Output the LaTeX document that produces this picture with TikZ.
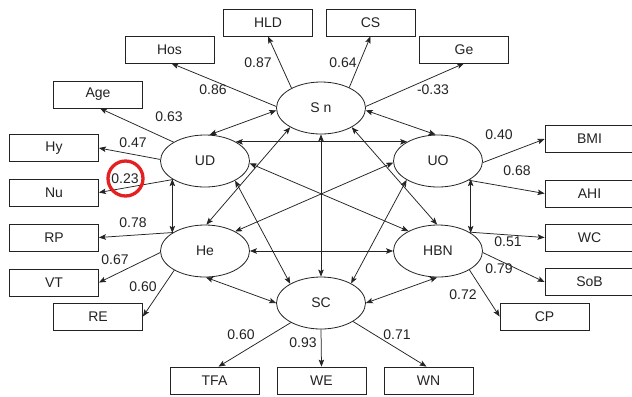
\documentclass[tikz,border=0pt]{standalone}
\usepackage{fontspec}
\setmainfont{Liberation Sans}
\usetikzlibrary{arrows.meta,shapes.geometric}
\definecolor{ink}{RGB}{35,35,35}
\definecolor{ringred}{RGB}{228,32,32}
\begin{document}
\begin{tikzpicture}[x=1bp,y=-1bp,
  every node/.style={font=\fontsize{14bp}{16bp}\selectfont, text=ink},
  lat/.style={draw=ink, line width=0.8bp, ellipse, minimum width=89bp, minimum height=52bp, inner sep=0pt},
  obs/.style={draw=ink, line width=0.8bp, rectangle, minimum width=89bp, minimum height=27bp, inner sep=0pt},
  tip/.style={-{Stealth[length=7bp,width=5.5bp,inset=1.5bp]}, draw=ink, line width=0.75bp},
  both/.style={{Stealth[length=7bp,width=5.5bp,inset=1.5bp]}-{Stealth[length=7bp,width=5.5bp,inset=1.5bp]}, draw=ink, line width=0.75bp},
  coef/.style={inner sep=0pt},
  hilite/.style={draw=ringred, circle, line width=3.3bp, minimum size=35bp, inner sep=0pt}
]
\useasboundingbox (0,0) rectangle (632,396);
\fill[white] (0,0) rectangle (632,396);
\clip (0,0) rectangle (632,396);

% latent constructs
\node[lat] (Sn)  at (321,108) {S n};
\node[lat] (UD)  at (205,161) {UD};
\node[lat] (UO)  at (438,161) {UO};
\node[lat] (He)  at (205,251) {He};
\node[lat] (HBN) at (438,251) {HBN};
\node[lat] (SC)  at (321,303) {SC};

% indicators
\node[obs] (HLD) at (268,22.5) {HLD};
\node[obs] (Hos) at (169.5,49.5) {Hos};
\node[obs] (CS)  at (370.5,22.5) {CS};
\node[obs] (Ge)  at (464,49.5) {Ge};
\node[obs] (Age) at (98,94.5) {Age};
\node[obs] (Hy)  at (54,148) {Hy};
\node[obs] (Nu)  at (54,192.5) {Nu};
\node[obs] (RP)  at (54,237.5) {RP};
\node[obs] (VT)  at (54,282.5) {VT};
\node[obs] (RE)  at (98,316.5) {RE};
\node[obs] (BMI) at (589.5,139) {BMI};
\node[obs] (AHI) at (589.5,193.5) {AHI};
\node[obs] (WC)  at (589.5,237.5) {WC};
\node[obs] (SoB) at (589.5,282) {SoB};
\node[obs] (CP)  at (544.5,316.5) {CP};
\node[obs] (TFA) at (214.5,380.5) {TFA};
\node[obs] (WE)  at (321.5,380.5) {WE};
\node[obs] (WN)  at (428.5,380.5) {WN};

% loadings
\draw[tip] (Sn.146) -- (HLD.south);
\draw[tip] (Sn.178) -- ([xshift=2bp]Hos.south);
\draw[tip] (Sn.36)  -- (CS.south);
\draw[tip] (Sn.2)   -- (Ge.south);
\draw[tip] (UD.149) -- ([xshift=2bp]Age.south);
\draw[tip] (UD.178) -- (Hy.east);
\draw[tip] (UD.210) -- (Nu.east);
\draw[tip] (He.150) -- (RP.east);
\draw[tip] (He.182) -- (VT.east);
\draw[tip] (He.212) -- (RE.east);
\draw[tip] (SC.213) -- ([xshift=4bp]TFA.north);
\draw[tip] (SC.270) -- (WE.north);
\draw[tip] (SC.330) -- ([xshift=-2bp]WN.north);
\draw[tip] (UO.-2)  -- (BMI.west);
\draw[tip] (UO.328) -- (AHI.west);
\draw[tip] (HBN.31) -- (WC.west);
\draw[tip] (HBN.-2) -- (SoB.west);
\draw[tip] (HBN.329) -- (CP.west);

% correlations between constructs
\draw[both] (Sn.183) -- (UD.80);
\draw[both] (Sn.357) -- (UO.95);
\draw[both] (Sn.212) -- (He.87);
\draw[both] (Sn.328) -- (HBN.92);
\draw[both] (Sn.270) -- (SC.90);
\draw[both] (UD.32)  -- (UO.148);
\draw[both] (UD.209) -- (He.151);
\draw[both] (UD.-3)  -- (HBN.146);
\draw[both] (UD.327) -- (SC.148);
\draw[both] (UO.182) -- (He.33);
\draw[both] (UO.331) -- (HBN.29);
\draw[both] (UO.211) -- (SC.33);
\draw[both] (He.0)   -- (HBN.180);
\draw[both] (He.272) -- (SC.180);
\draw[both] (HBN.268) -- (SC.0);

% coefficients
\node[coef] (c87)  at (258,63) {0.87};
\node[coef] (c86)  at (213,90) {0.86};
\node[coef] (c63)  at (169,117) {0.63};
\node[coef] (c47)  at (133,143) {0.47};
\node[coef] (c23)  at (125,179) {0.23};
\node[coef] (c64)  at (343,63) {0.64};
\node[coef] (c33)  at (433,90) {-0.33};
\node[coef] (c40)  at (499,135) {0.40};
\node[coef] (c68)  at (517,171) {0.68};
\node[coef] (c78)  at (133,223) {0.78};
\node[coef] (c67)  at (115,260) {0.67};
\node[coef] (c60a) at (143,287) {0.60};
\node[coef] (c60b) at (241,335) {0.60};
\node[coef] (c93)  at (303,343) {0.93};
\node[coef] (c71)  at (397,335) {0.71};
\node[coef] (c51)  at (508,242) {0.51};
\node[coef] (c79)  at (499,269) {0.79};
\node[coef] (c72)  at (463,295) {0.72};

% highlight ring
\node[hilite] (ring) at (125.5,178.5) {};
\end{tikzpicture}
\end{document}
